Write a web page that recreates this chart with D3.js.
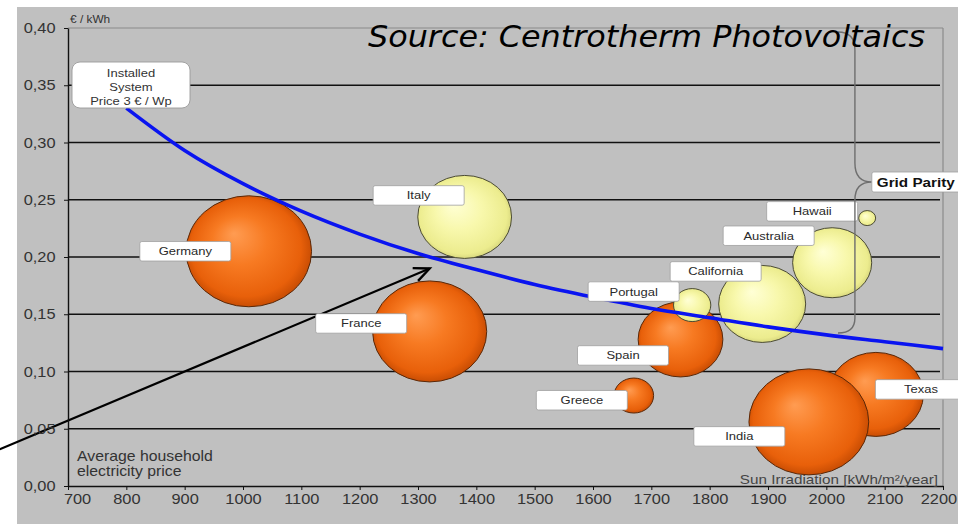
<!DOCTYPE html>
<html>
<head>
<meta charset="utf-8">
<script src="https://cdn.jsdelivr.net/npm/d3@7"></script>
<style>
  html, body { margin: 0; padding: 0; background: #ffffff; }
  svg { display: block; }
</style>
</head>
<body>
<svg id="chart" width="958" height="524"></svg>
<script>
// Countries / regions, drawn back to front
const regions     = ["Germany", "France", "Italy", "Spain", "Portugal", "California", "Australia", "Hawaii", "Greece", "Texas", "India"];
const irradiation = [1010, 1320, 1380, 1750, 1770, 1890, 2010, 2070, 1670, 2085, 1970];   // kWh/m²/year
const elecPrice   = [0.205, 0.135, 0.235, 0.128, 0.158, 0.159, 0.195, 0.234, 0.079, 0.080, 0.056]; // €/kWh
const marketSize  = [55.5, 50.5, 41.5, 37.5, 16.5, 38.5, 35, 7.5, 17.5, 42, 53];          // bubble size
const atParity    = [false, false, true, false, true, true, true, true, false, false, false];

// Generation cost of an installed system at 3 €/Wp
const costIrradiation = [800, 900, 1000, 1100, 1200, 1300, 1400, 1500, 1600, 1700, 1800, 1900, 2000, 2100, 2200];
const costPrice       = [0.330, 0.293, 0.264, 0.240, 0.220, 0.203, 0.189, 0.176, 0.165, 0.155, 0.147, 0.139, 0.132, 0.126, 0.120];

// Axis ticks
const xTicks = [700, 800, 900, 1000, 1100, 1200, 1300, 1400, 1500, 1600, 1700, 1800, 1900, 2000, 2100, 2200];
const yTicks = [0, 0.05, 0.10, 0.15, 0.20, 0.25, 0.30, 0.35, 0.40];

// Label box placement relative to each bubble centre (px)
const labelOffset = [[-63.5, 0], [-68.5, -8], [-46, -21.5], [-57.5, 16], [-58.5, -13.5], [-46.5, -32.5],
                     [-63.5, -27], [-55, -6.7], [-52, 4.7], [45, -5], [-69.5, 14.5]];

const STRETCH = 1.13;   // horizontal text stretch
const svg = d3.select("#chart");

const x = d3.scaleLinear().domain([700, 2200]).range([68, 943]);
const y = d3.scaleLinear().domain([0, 0.40]).range([486, 28]);
const r = d3.scaleLinear().domain([0, 60]).range([0, 60]);

// gradients for the spheres
const defs = svg.append("defs");
function sphere(id, stops) {
  const g = defs.append("radialGradient").attr("id", id)
    .attr("cx", "50%").attr("cy", "50%").attr("r", "55%").attr("fx", "38%").attr("fy", "34%");
  stops.forEach(([o, c]) => g.append("stop").attr("offset", o).attr("stop-color", c));
}
sphere("orangeBall", [["0%", "#ff9c52"], ["40%", "#f77a22"], ["80%", "#e8600a"], ["100%", "#b84300"]]);
sphere("yellowBall", [["0%", "#ffffd6"], ["45%", "#f8f8ac"], ["85%", "#ecec8e"], ["100%", "#c9c872"]]);

// background
svg.append("rect").attr("x", 17).attr("y", 7).attr("width", 941).attr("height", 517).attr("fill", "#c0c0c0");

// grid
const grid = svg.append("g");
grid.selectAll("line.h").data(yTicks.filter(v => v > 0 && v < 0.40)).join("line")
  .attr("x1", x(700)).attr("x2", x(2200) - 3)
  .attr("y1", d => y(d)).attr("y2", d => y(d))
  .attr("stroke", "#111").attr("stroke-width", 1.3);
grid.append("line").attr("x1", x(700)).attr("x2", x(2200)).attr("y1", y(0.40)).attr("y2", y(0.40))
  .attr("stroke", "#8a8a8a").attr("stroke-width", 1.2);
grid.append("line").attr("x1", x(2200)).attr("x2", x(2200)).attr("y1", y(0.40)).attr("y2", y(0))
  .attr("stroke", "#8a8a8a").attr("stroke-width", 1.2);

// bubbles
const idx = d3.range(regions.length);
svg.append("g").selectAll("ellipse").data(idx).join("ellipse")
  .attr("cx", i => x(irradiation[i]))
  .attr("cy", i => y(elecPrice[i]))
  .attr("rx", i => r(marketSize[i]) * STRETCH)
  .attr("ry", i => r(marketSize[i]))
  .attr("fill", i => atParity[i] ? "url(#yellowBall)" : "url(#orangeBall)")
  .attr("stroke", i => atParity[i] ? "#4b4b34" : "#5a2808")
  .attr("stroke-width", 1);

// generation cost curve
svg.append("path")
  .datum(d3.zip(costIrradiation, costPrice))
  .attr("d", d3.line().x(d => x(d[0])).y(d => y(d[1])).curve(d3.curveMonotoneX))
  .attr("fill", "none").attr("stroke", "#0a14f0").attr("stroke-width", 3.6);

// arrow pointing at the curve
const arrowFrom = [583, 0.032], arrowTo = [1320, 0.190];
const ax0 = x(arrowFrom[0]), ay0 = y(arrowFrom[1]), ax1 = x(arrowTo[0]), ay1 = y(arrowTo[1]);
const ang = Math.atan2(ay1 - ay0, ax1 - ax0);
const head = 17, spread = 0.42;
svg.append("line").attr("x1", ax0).attr("y1", ay0).attr("x2", ax1).attr("y2", ay1)
  .attr("stroke", "#000").attr("stroke-width", 2.2);
svg.append("path")
  .attr("d", `M${ax1 - head * Math.cos(ang - spread)},${ay1 - head * Math.sin(ang - spread)} L${ax1},${ay1} L${ax1 - head * Math.cos(ang + spread)},${ay1 - head * Math.sin(ang + spread)}`)
  .attr("fill", "none").attr("stroke", "#000").attr("stroke-width", 2.4);

// stretched text helper
function label(g, px, py, str, opts = {}) {
  return g.append("text")
    .attr("transform", `translate(${px},${py}) scale(${opts.stretch ?? STRETCH},1)`)
    .attr("text-anchor", opts.anchor || "start")
    .attr("font-family", opts.family || "'Liberation Sans', Arial, sans-serif")
    .attr("font-size", opts.size || 12)
    .attr("font-weight", opts.weight || "normal")
    .attr("font-style", opts.style || "normal")
    .attr("fill", opts.color || "#333")
    .text(str);
}

// region label boxes
const boxW = 91, boxH = 19.5;
const labels = svg.append("g");
idx.forEach(i => {
  const cx = x(irradiation[i]) + labelOffset[i][0];
  const cy = y(elecPrice[i]) + labelOffset[i][1];
  labels.append("rect").attr("x", cx - boxW / 2).attr("y", cy - boxH / 2)
    .attr("width", boxW).attr("height", boxH).attr("rx", 2)
    .attr("fill", "#ffffff").attr("stroke", "#a0a0a0").attr("stroke-width", 0.8);
  label(labels, cx, cy + 4, regions[i], { anchor: "middle", size: 11.5, color: "#2a2a2a" });
});

// installed system price box
const info = svg.append("g");
info.append("rect").attr("x", 72).attr("y", 62).attr("width", 118).attr("height", 46).attr("rx", 8)
  .attr("fill", "#ffffff").attr("stroke", "#9a9a9a").attr("stroke-width", 0.9);
label(info, 131, 77, "Installed", { anchor: "middle", size: 11.5 });
label(info, 131, 91, "System", { anchor: "middle", size: 11.5 });
label(info, 131, 105, "Price 3 € / Wp", { anchor: "middle", size: 11.5 });

// grid parity brace
const bx = x(2049), bl = x(2020), bt = y(0.3965), bm = y(0.2655), bb = y(0.1336), bp = x(2078);
svg.append("path")
  .attr("d", `M${bl},${bt} Q${bx},${bt} ${bx},${bt + 18} L${bx},${bm - 19} Q${bx},${bm} ${bp},${bm} ` +
             `Q${bx},${bm} ${bx},${bm + 18} L${bx},${bb - 15} Q${bx},${bb} ${bl},${bb}`)
  .attr("fill", "none").attr("stroke", "#6e6e6e").attr("stroke-width", 1.4);
svg.append("rect").attr("x", bp).attr("y", bm - 10).attr("width", 100).attr("height", 20).attr("rx", 2)
  .attr("fill", "#ffffff").attr("stroke", "#a0a0a0").attr("stroke-width", 0.8);
label(svg, bp + 5, bm + 5, "Grid Parity", { size: 13.5, weight: "bold", color: "#111" });

// axes
const fmtY = v => d3.format(".2f")(v).replace(".", ",");
const yAxis = svg.append("g").attr("transform", `translate(${x(700)},0)`)
  .call(d3.axisLeft(y).tickValues(yTicks).tickFormat(fmtY).tickSize(4).tickSizeOuter(0).tickPadding(7));
const xAxis = svg.append("g").attr("transform", `translate(0,${y(0)})`)
  .call(d3.axisBottom(x).tickValues(xTicks).tickFormat(d3.format("d")).tickSize(4).tickSizeOuter(0).tickPadding(4));
[yAxis, xAxis].forEach(a => {
  a.select(".domain").attr("stroke", "#111").attr("stroke-width", 1.4);
  a.selectAll(".tick line").attr("stroke", "#111");
  a.selectAll(".tick text")
    .attr("font-family", "'Liberation Sans', Arial, sans-serif")
    .attr("font-size", 14.5).attr("fill", "#333")
    .attr("transform", `scale(${STRETCH},1)`);
});
xAxis.selectAll(".tick text").filter(d => d === 700).attr("dx", 8);
xAxis.selectAll(".tick text").filter(d => d === 2200).attr("dx", -4);

// axis captions
label(svg, 70, 23, "€ / kWh", { size: 10.5 });
label(svg, 77, 461, "Average household", { size: 14 });
label(svg, 77, 476, "electricity price", { size: 14 });
label(svg, 938, 484, "Sun Irradiation [kWh/m²/year]", { anchor: "end", size: 13.5, color: "#444" });

// source note
svg.append("text").attr("x", 368).attr("y", 47)
  .attr("font-family", "'DejaVu Sans', Verdana, sans-serif").attr("font-style", "italic")
  .attr("font-size", 30).attr("fill", "#000")
  .attr("textLength", 557).attr("lengthAdjust", "spacingAndGlyphs")
  .text("Source: Centrotherm Photovoltaics");
</script>
</body>
</html>
